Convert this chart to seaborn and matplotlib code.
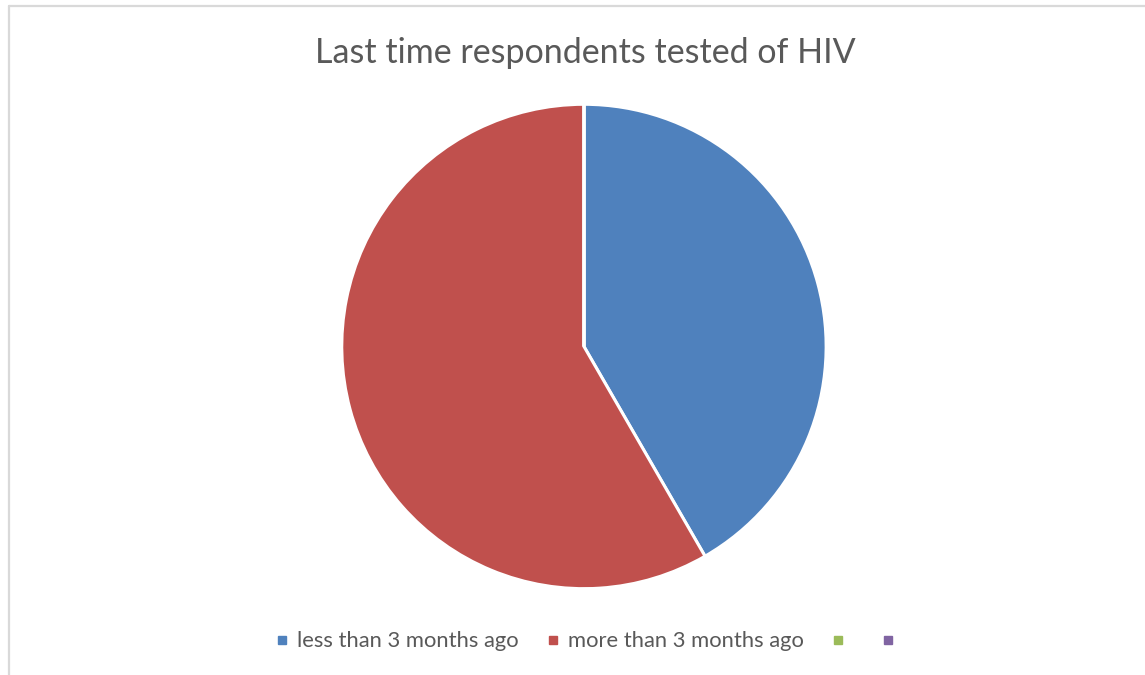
import matplotlib
matplotlib.use("Agg")
import matplotlib.pyplot as plt
from matplotlib.lines import Line2D
import seaborn as sns

# Survey responses: when respondents were last tested for HIV
categories = ["less than 3 months ago", "more than 3 months ago", "", ""]
counts = [25, 35, 0, 0]
colors = ["#4F81BD", "#C0504D", "#9BBB59", "#8064A2"]

sns.set_theme(style="white")
plt.rcParams["font.family"] = ["Lato", "DejaVu Sans"]

fig = plt.figure(figsize=(11.45, 6.75), dpi=100)
fig.patch.set_facecolor("white")

ax = fig.add_axes([0.2995, 0.1297, 0.421, 0.714])
ax.pie(
    counts,
    colors=colors,
    startangle=90,
    counterclock=False,
    radius=1.0,
    wedgeprops=dict(edgecolor="white", linewidth=2.2),
)
ax.set_xlim(-0.995, 0.995)
ax.set_ylim(-0.995, 0.995)
ax.set_aspect("equal")
ax.axis("off")

fig.text(0.511, 0.921, "Last time respondents tested of HIV",
         ha="center", va="center", fontsize=24.5, color="#595959")

handles = [Line2D([0], [0], marker="s", linestyle="none", markersize=6,
                  markerfacecolor=c, markeredgecolor=c) for c in colors]
fig.legend(handles, categories, loc="center", bbox_to_anchor=(0.515, 0.05),
           ncol=4, frameon=False, fontsize=15.8, labelcolor="#595959",
           handlelength=0.5, handletextpad=0.45, columnspacing=1.3)

# Chart area border (top and left edges)
fig.add_artist(Line2D([0.0078, 0.0078], [0.0, 0.991], transform=fig.transFigure,
                      color="#D9D9D9", linewidth=1.6))
fig.add_artist(Line2D([0.0078, 1.0], [0.991, 0.991], transform=fig.transFigure,
                      color="#D9D9D9", linewidth=1.6))

fig.savefig("out.png", dpi=100, facecolor="white")
